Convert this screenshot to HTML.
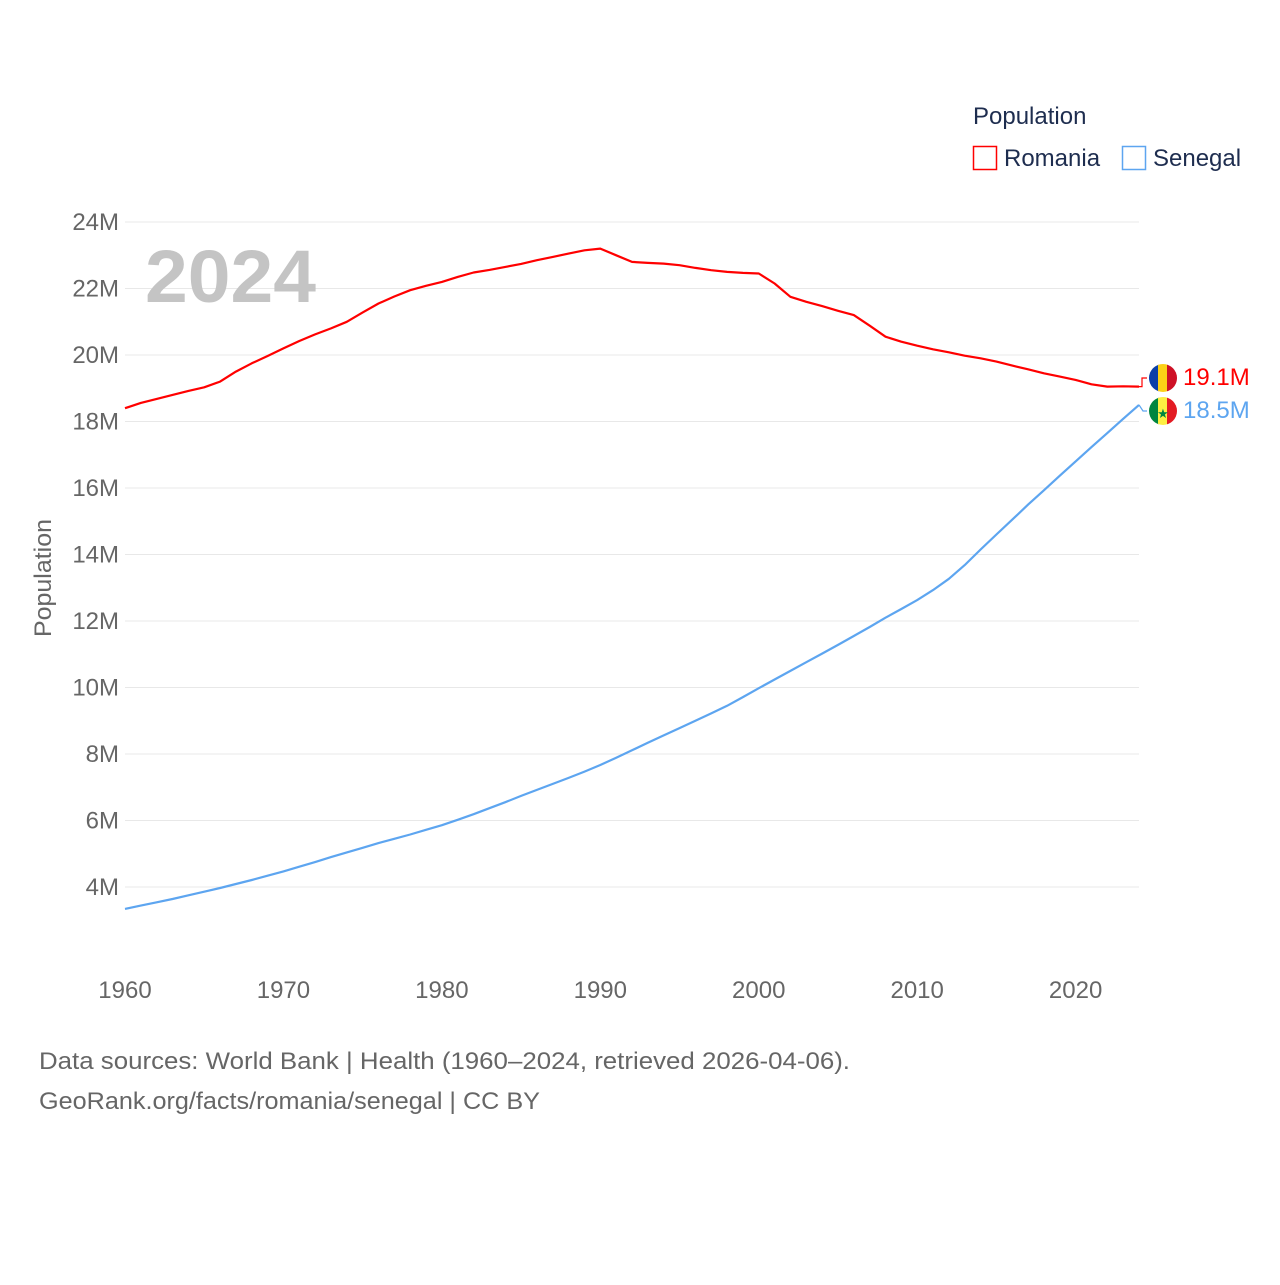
<!DOCTYPE html>
<html><head><meta charset="utf-8">
<style>
body{margin:0;background:#fff;}
svg text{font-family:"Liberation Sans",sans-serif;}
</style></head>
<body>
<svg id="chart" width="1280" height="1280" viewBox="0 0 1280 1280">
<defs>
<clipPath id="cr"><circle cx="1163" cy="378" r="14"/></clipPath>
<clipPath id="cs"><circle cx="1163" cy="411" r="14"/></clipPath>
</defs>
<g id="grid"></g>
<g id="yticks"></g>
<g id="xticks"></g>
<text x="145" y="302" font-size="74" font-weight="bold" fill="#c4c4c4" textLength="171" lengthAdjust="spacingAndGlyphs">2024</text>
<text transform="translate(51,578) rotate(-90)" text-anchor="middle" font-size="24" fill="#666" textLength="118" lengthAdjust="spacingAndGlyphs">Population</text>
<g id="lines"></g>
<g>
<text x="973" y="124" font-size="24" fill="#1e2d4f">Population</text>
<g><rect x="973.5" y="146.5" width="23" height="23" fill="none" stroke="#ff0000" stroke-width="1.5"/><text x="1004" y="166" font-size="24" fill="#1e2d4f">Romania</text></g>
<g><rect x="1122.5" y="146.5" width="23" height="23" fill="none" stroke="#5da5f0" stroke-width="1.5"/><text x="1153" y="166" font-size="24" fill="#1e2d4f">Senegal</text></g>
</g>
<g clip-path="url(#cr)">
<rect x="1149" y="364" width="10" height="28" fill="#0b3fa8"/><rect x="1158" y="364" width="10" height="28" fill="#fcd116"/><rect x="1167" y="364" width="10" height="28" fill="#ce1126"/></g>
<g clip-path="url(#cs)">
<rect x="1149" y="397" width="10" height="28" fill="#00853f"/><rect x="1158" y="397" width="10" height="28" fill="#fdef42"/><rect x="1167" y="397" width="10" height="28" fill="#e31b23"/>
<text x="1163" y="418" text-anchor="middle" font-size="13" fill="#00853f">★</text></g>
<text x="1183" y="385" font-size="24" fill="#ff0000">19.1M</text>
<text x="1183" y="418" font-size="24" fill="#5da5f0">18.5M</text>
<text x="39" y="1069" font-size="24" fill="#666" textLength="811" lengthAdjust="spacingAndGlyphs">Data sources: World Bank | Health (1960–2024, retrieved 2026-04-06).</text>
<text x="39" y="1109" font-size="24" fill="#666" textLength="501" lengthAdjust="spacingAndGlyphs">GeoRank.org/facts/romania/senegal | CC BY</text>
</svg>
<script>
const years=[];for(let y=1960;y<=2024;y++)years.push(y);
const romania=[18.40,18.56,18.68,18.80,18.92,19.03,19.20,19.50,19.75,19.97,20.20,20.42,20.62,20.80,21.00,21.28,21.55,21.76,21.95,22.08,22.20,22.35,22.48,22.56,22.65,22.74,22.85,22.95,23.05,23.15,23.20,23.00,22.80,22.77,22.75,22.70,22.62,22.55,22.50,22.47,22.45,22.15,21.75,21.60,21.47,21.33,21.20,20.88,20.55,20.40,20.28,20.17,20.08,19.98,19.90,19.80,19.68,19.57,19.45,19.35,19.25,19.12,19.05,19.06,19.05];
const senegal=[3.34,3.44,3.54,3.64,3.75,3.86,3.97,4.09,4.21,4.34,4.47,4.61,4.75,4.90,5.04,5.18,5.32,5.45,5.58,5.72,5.86,6.02,6.19,6.37,6.55,6.74,6.92,7.10,7.28,7.47,7.67,7.89,8.11,8.34,8.56,8.78,9.00,9.22,9.45,9.71,9.98,10.24,10.50,10.76,11.02,11.28,11.55,11.82,12.10,12.36,12.63,12.93,13.27,13.68,14.15,14.60,15.05,15.50,15.93,16.37,16.80,17.23,17.65,18.08,18.50];
const yTicks=[4,6,8,10,12,14,16,18,20,22,24];
const xTicks=[1960,1970,1980,1990,2000,2010,2020];
const X=y=>125+(y-1960)*(1139-125)/64;
const Y=v=>1020-v*33.25;
const NS="http://www.w3.org/2000/svg";
function mk(t,a,p){const e=document.createElementNS(NS,t);for(const k in a)e.setAttribute(k,a[k]);p.appendChild(e);return e;}
const g=document.getElementById('grid'),yt=document.getElementById('yticks'),xt=document.getElementById('xticks'),ln=document.getElementById('lines');
yTicks.forEach(v=>{
 const l=mk('line',{x1:125,x2:1139,y1:Y(v),y2:Y(v),stroke:'#e8e8e8','stroke-width':1},g);
 
 
 const t=mk('text',{x:119,y:Y(v)+8,'text-anchor':'end','font-size':24,fill:'#666'},yt);
 t.textContent=v+'M';
 
 
});
xTicks.forEach(v=>{
 const t=mk('text',{x:X(v),y:998,'text-anchor':'middle','font-size':24,fill:'#666'},xt);
 t.textContent=v;
 
 
});
function line(vals,col,name){
 const d=vals.map((v,i)=>(i?'L':'M')+X(years[i]).toFixed(1)+','+Y(v).toFixed(1)).join('');
 const p=mk('path',{d:d,fill:'none',stroke:col,'stroke-width':2.2,'stroke-linejoin':'round'},ln);
 
 
}
line(romania,'#ff0000','romania-line');
line(senegal,'#5da5f0','senegal-line');
const lr=Y(romania[romania.length-1]),ls=Y(senegal[senegal.length-1]);
const c1=mk('path',{d:`M1139,${lr}H1142V378H1147`,fill:'none',stroke:'#ff0000','stroke-width':1.2},ln);


const c2=mk('path',{d:`M1139,${ls}L1143,411H1147`,fill:'none',stroke:'#5da5f0','stroke-width':1.2},ln);


</script>
</body></html>
